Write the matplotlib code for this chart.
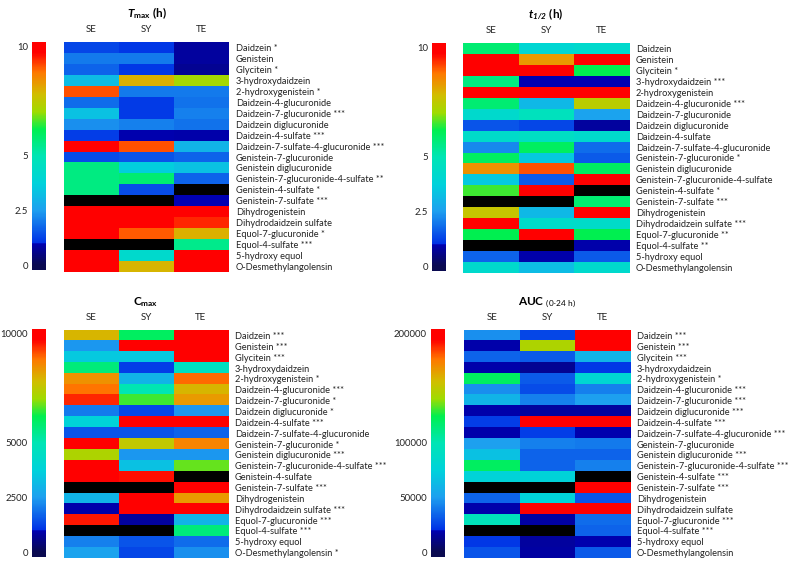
import numpy as np
import matplotlib
matplotlib.use('Agg')
import matplotlib.pyplot as plt
from matplotlib.colors import LinearSegmentedColormap, Normalize

plt.rcParams['font.family'] = ['Lato', 'DejaVu Sans']
plt.rcParams['mathtext.fontset'] = 'custom'
plt.rcParams['mathtext.rm'] = 'Lato'
plt.rcParams['mathtext.it'] = 'Lato:italic'
plt.rcParams['mathtext.bf'] = 'Lato:bold'
plt.rcParams['mathtext.bfit'] = 'Lato:bold:italic'

groups = ['SE', 'SY', 'TE']
compounds = ['Daidzein', 'Genistein', 'Glycitein', '3-hydroxydaidzein', '2-hydroxygenistein',
             'Daidzein-4-glucuronide', 'Daidzein-7-glucuronide', 'Daidzein diglucuronide',
             'Daidzein-4-sulfate', 'Daidzein-7-sulfate-4-glucuronide', 'Genistein-7-glucuronide',
             'Genistein diglucuronide', 'Genistein-7-glucuronide-4-sulfate', 'Genistein-4-sulfate',
             'Genistein-7-sulfate', 'Dihydrogenistein', 'Dihydrodaidzein sulfate',
             'Equol-7-glucuronide', 'Equol-4-sulfate', '5-hydroxy equol', 'O-Desmethylangolensin']
nan = np.nan

# Tmax (h)
tmax = [[1.3, 1.1, 0.8], [2.0, 2.0, 0.8], [1.7, 1.1, 0.7], [3.2, 8.0, 7.1], [9.1, 2.0, 2.0],
        [1.8, 1.15, 1.9], [3.3, 1.15, 2.1], [2.3, 2.1, 1.9], [1.2, 0.95, 0.9], [10.0, 9.1, 3.0],
        [1.4, 1.5, 1.7], [5.6, 3.6, 3.3], [5.6, 5.8, 1.7], [5.6, 1.4, nan], [nan, nan, 1.0],
        [10.0, 10.0, 10.0], [10.0, 9.8, 9.4], [10.0, 9.0, 8.0], [nan, nan, 5.5], [10.0, 4.2, 10.0],
        [10.0, 7.9, 10.0]]
tmax_sig = ['*', '', '*', '', '*', '', '***', '', '***', '***', '', '', '**', '*', '***',
            '', '', '*', '***', '', '']

# t1/2 (h)
thalf = [[5.8, 4.0, 4.2], [10.0, 8.3, 10.0], [10.0, 10.0, 6.2], [5.6, 1.0, 1.0], [10.0, 10.0, 10.0],
         [5.8, 3.1, 7.4], [4.2, 4.7, 2.6], [1.5, 1.3, 0.8], [4.3, 4.5, 4.2], [2.2, 6.0, 1.8],
         [6.0, 3.5, 1.6], [8.4, 9.1, 6.0], [3.5, 1.6, 10.0], [6.5, 10.0, nan], [nan, nan, 5.8],
         [7.6, 3.1, 9.8], [10.0, 4.3, 4.3], [6.2, 10.0, 6.2], [nan, nan, 0.9], [1.7, 0.9, 1.6],
         [4.2, 3.2, 4.2]]
thalf_sig = ['', '', '*', '***', '', '***', '', '', '', '', '*', '', '', '*', '***',
             '', '***', '**', '**', '', '']

# Cmax
cmax = [[7900, 6000, 10000], [2400, 10000, 10000], [3500, 3500, 10000], [5700, 1200, 4600],
        [8400, 3000, 8900], [8800, 5000, 7900], [9400, 6500, 8300], [2000, 1300, 2400],
        [3800, 10000, 10000], [1500, 1500, 1700], [9700, 7500, 8600], [7200, 2400, 2400],
        [10000, 3300, 6700], [10000, 9600, nan], [nan, nan, 9800], [3000, 10000, 8300],
        [900, 10000, 10000], [9500, 800, 3000], [nan, nan, 5700], [2100, 1500, 1800],
        [2600, 1300, 2300]]
cmax_sig = ['***', '***', '***', '', '*', '***', '*', '*', '***', '', '*', '***', '***', '', '***',
            '', '***', '***', '***', '', '*']

# AUC (0-24 h)
auc = [[46000, 26000, 200000], [18000, 144000, 200000], [34000, 32000, 60000], [18000, 14000, 22000],
       [120000, 32000, 80000], [46000, 28000, 42000], [60000, 42000, 50000], [18000, 16000, 16000],
       [24000, 200000, 200000], [18000, 24000, 19000], [50000, 42000, 40000], [66000, 34000, 34000],
       [120000, 34000, 42000], [76000, 76000, nan], [nan, nan, 200000], [34000, 76000, 30000],
       [18000, 200000, 200000], [96000, 17000, 36000], [nan, nan, 34000], [22000, 16000, 19000],
       [30000, 17000, 32000]]
auc_sig = ['***', '***', '***', '', '*', '***', '***', '***', '***', '***', '', '***', '***', '***',
           '***', '', '', '***', '***', '', '']

panels = [
    (tmax, tmax_sig, 10, [0, 2.5, 5, 10], ['0', '2.5', '5', '10'],
     r'$\mathbfit{T}_{\mathbf{max}}$ $\mathbf{(h)}$',
     [0.0811, 0.5177, 0.2091, 0.4078], [0.0406, 0.5213, 0.0177, 0.4043]),
    (thalf, thalf_sig, 10, [0, 2.5, 5, 10], ['0', '2.5', '5', '10'],
     r'$\mathbfit{t}_{\mathbfit{1/2}}$ $\mathbf{(h)}$',
     [0.5868, 0.5160, 0.2104, 0.4078], [0.5475, 0.5195, 0.0177, 0.4043]),
    (cmax, cmax_sig, 10000, [0, 2500, 5000, 10000], ['0', '2500', '5000', '10000'],
     r'$\mathbf{C}_{\mathbf{max}}$',
     [0.0811, 0.0106, 0.2079, 0.4043], [0.0406, 0.0124, 0.0177, 0.4043]),
    (auc, auc_sig, 200000, [0, 50000, 100000, 200000], ['0', '50000', '100000', '200000'],
     r'$\mathbf{AUC}$ $_{\mathrm{(0\text{-}24\ h)}}$',
     [0.5881, 0.0106, 0.2104, 0.4043], [0.5463, 0.0124, 0.0177, 0.4043]),
]

cmap = LinearSegmentedColormap.from_list('jetlike', [
    (0.00, '#0a0a50'), (0.10, '#0000b4'), (0.102, '#0032e6'), (0.25, '#1ea0f0'),
    (0.37, '#00d2dc'), (0.50, '#00e6b4'), (0.62, '#00f050'), (0.70, '#a0dc00'),
    (0.78, '#d2be00'), (0.88, '#ff7800'), (0.97, '#ff0000'), (1.00, '#ff0000')])
cmap.set_bad('black')
cmap.set_under('#0a0a50')
cmap.set_over('#ff0000')

fig = plt.figure(figsize=(7.89, 5.64), dpi=100)
tc = '#222222'

for vals, sig, vmax, ticks, tlabels, title, hpos, cpos in panels:
    norm = Normalize(0, vmax)
    ax = fig.add_axes(hpos)
    data = np.ma.masked_invalid(np.array(vals, dtype=float))
    ax.imshow(data, cmap=cmap, norm=norm, aspect='auto', interpolation='nearest')
    ax.set_xticks(range(len(groups)))
    ax.set_xticklabels(groups, fontsize=7, color=tc)
    ax.xaxis.tick_top()
    ax.set_yticks(range(len(compounds)))
    ax.set_yticklabels([c + (' ' + s if s else '') for c, s in zip(compounds, sig)],
                       fontsize=6.7, color=tc)
    ax.yaxis.tick_right()
    ax.tick_params(axis='y', length=0, pad=5)
    ax.tick_params(axis='x', length=0, pad=6)
    for sp in ax.spines.values():
        sp.set_visible(False)
    ax.set_title(title, fontsize=8.5, pad=18, color='black')

    cax = fig.add_axes(cpos)
    grad = np.linspace(-0.02 * vmax, 1.02 * vmax, 300)[::-1].reshape(-1, 1)
    cax.imshow(grad, cmap=cmap, norm=norm, aspect='auto',
               extent=[0, 1, -0.02 * vmax, 1.02 * vmax])
    cax.set_xticks([])
    cax.set_yticks(ticks)
    cax.set_yticklabels(tlabels, fontsize=6.9, color=tc)
    cax.tick_params(length=0, pad=3)
    for sp in cax.spines.values():
        sp.set_visible(False)

plt.savefig('out.png', dpi=100)
